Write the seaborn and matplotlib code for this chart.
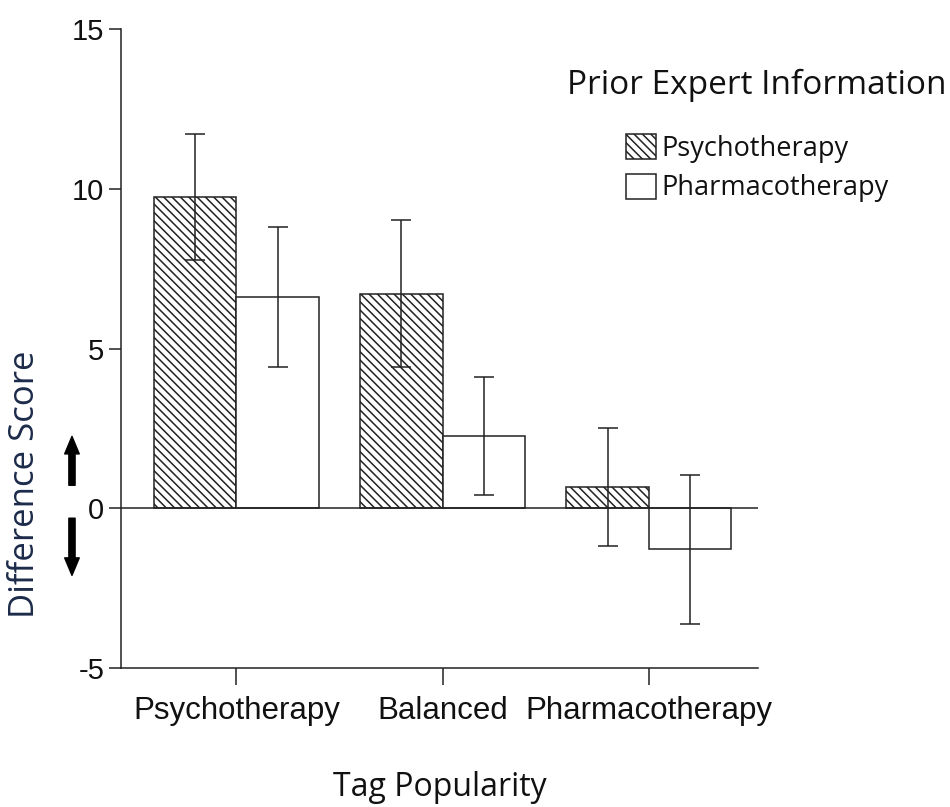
import matplotlib
matplotlib.use("Agg")
import matplotlib.pyplot as plt
from matplotlib.patches import Patch
import pandas as pd
import seaborn as sns

# values
TAG_LEVELS  = ["Psychotherapy", "Balanced", "Pharmacotherapy"]
INFO_LEVELS = ["Psychotherapy", "Pharmacotherapy"]
PSYCH_MEAN  = [9.75, 6.72, 0.66]
PSYCH_ERR   = [1.98, 2.30, 1.85]
PHARM_MEAN  = [6.61, 2.26, -1.28]
PHARM_ERR   = [2.20, 1.85, 2.33]
Y_TICKS     = [-5, 0, 5, 10, 15]

INK   = "#222222"
HATCH = "\\\\\\\\"
LABEL_FONT = "Open Sans"
TICK_FONT  = "Liberation Sans"

df = pd.DataFrame({
    "tag": TAG_LEVELS * 2,
    "info": [INFO_LEVELS[0]] * 3 + [INFO_LEVELS[1]] * 3,
    "score": PSYCH_MEAN + PHARM_MEAN,
})
errs = [PSYCH_ERR, PHARM_ERR]
means = [PSYCH_MEAN, PHARM_MEAN]

sns.set_style("white")
plt.rcParams["axes.unicode_minus"] = False
plt.rcParams["hatch.linewidth"] = 1.1

fig = plt.figure(figsize=(9.5, 8.07), dpi=100)
ax = fig.add_axes([0.1274, 0.1722, 0.6706, 0.7918])

sns.barplot(data=df, x="tag", y="score", hue="info", order=TAG_LEVELS,
            hue_order=INFO_LEVELS, palette=["white", "white"], edgecolor=INK,
            linewidth=1.1, errorbar=None, width=0.8, legend=False, ax=ax)

bar_groups = list(ax.containers)
for i, cont in enumerate(bar_groups):
    xs = []
    for bar in cont:
        if i == 0:
            bar.set_hatch(HATCH)
        xs.append(bar.get_x() + bar.get_width() / 2)
    ax.errorbar(xs, means[i], yerr=errs[i], fmt="none", ecolor=INK,
                elinewidth=1.1, capsize=7, capthick=1.1, zorder=5)

ax.axhline(0, color=INK, lw=1.1, zorder=4)

ax.set_xlim(-0.56, 2.53)
ax.set_ylim(-5, 15)
ax.set_yticks(Y_TICKS)
ax.set_yticklabels([str(t) for t in Y_TICKS])
sns.despine(ax=ax)
for s in ["left", "bottom"]:
    ax.spines[s].set_color(INK)
    ax.spines[s].set_linewidth(1.1)

ax.tick_params(axis="y", length=9, width=1.1, pad=3, color=INK, left=True)
ax.tick_params(axis="x", length=12, width=1.1, pad=8, color=INK, bottom=True)
for lab in ax.get_yticklabels():
    lab.set_fontfamily(TICK_FONT)
    lab.set_fontsize(21)
    lab.set_color("#111111")
for lab in ax.get_xticklabels():
    lab.set_fontfamily(TICK_FONT)
    lab.set_fontsize(22.5)
    lab.set_color("#111111")

ax.set_ylabel("Difference Score", fontsize=25, family=LABEL_FONT, color="#1c2b4a")
ax.yaxis.label.set_va("center")
ax.yaxis.set_label_coords(-0.150, 0.288)
ax.set_xlabel("Tag Popularity", fontsize=23, family=LABEL_FONT, color="#111111")
ax.xaxis.label.set_va("baseline")
ax.xaxis.set_label_coords(0.5, -0.200)

# direction arrows beside zero
blend = ("axes fraction", "data")
arrow = dict(arrowstyle="simple,head_length=0.9,head_width=0.75,tail_width=0.32",
             mutation_scale=14, color="black", shrinkA=0, shrinkB=0)
ax.annotate("", xy=(-0.077, 2.25), xytext=(-0.077, 0.72),
            xycoords=blend, textcoords=blend, arrowprops=arrow, annotation_clip=False)
ax.annotate("", xy=(-0.077, -2.1), xytext=(-0.077, -0.31),
            xycoords=blend, textcoords=blend, arrowprops=arrow, annotation_clip=False)

fig.text(757 / 950, 1 - 85 / 807, "Prior Expert Information", fontsize=24,
         family=LABEL_FONT, ha="center", va="center", color="#111111")
handles = [Patch(facecolor="white", edgecolor=INK, hatch=HATCH, lw=1.1),
           Patch(facecolor="white", edgecolor=INK, lw=1.1)]
ax.legend(handles, INFO_LEVELS, loc="upper left",
          bbox_to_anchor=(626 / 950, 1 - 134 / 807), bbox_transform=fig.transFigure,
          frameon=False, prop={"family": LABEL_FONT, "size": 19.5},
          labelcolor="#111111",
          handlelength=1.1, handleheight=1.05, handletextpad=0.2,
          labelspacing=0.4, borderpad=0, borderaxespad=0)

fig.savefig("out.png", dpi=100)
